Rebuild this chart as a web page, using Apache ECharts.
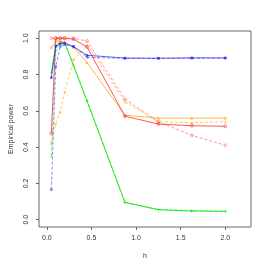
<!DOCTYPE html>
<html>
<head>
<meta charset="utf-8">
<script src="https://cdn.jsdelivr.net/npm/echarts@6/dist/echarts.min.js"></script>
<style>html,body{margin:0;padding:0;background:#fff}#c{width:266px;height:266px}</style>
</head>
<body>
<div id="c"></div>
<script>
var hValues = [0.05, 0.1, 0.15, 0.2, 0.3, 0.45, 0.875, 1.25, 1.625, 2.0];
var redSolid = [0.475, 1.0, 1.0, 1.0, 0.995, 0.952, 0.571, 0.527, 0.518, 0.515];
var redDashed = [1.0, 1.0, 1.0, 1.0, 1.0, 0.985, 0.665, 0.54, 0.465, 0.41];
var orangeSolid = [0.95, 0.985, 0.985, 0.98, 0.95, 0.866, 0.576, 0.56, 0.56, 0.56];
var orangeDashed = [0.424, 0.53, 0.595, 0.705, 0.884, 0.963, 0.65, 0.54, 0.535, 0.54];
var blueSolid = [0.783, 0.955, 0.97, 0.972, 0.954, 0.906, 0.891, 0.89, 0.892, 0.892];
var blueDashed = [0.166, 0.843, 0.955, 0.965, 0.955, 0.895, 0.889, 0.889, 0.89, 0.89];
var greenSolid = [0.81, 0.96, 0.98, 0.975, 0.849, 0.655, 0.096, 0.055, 0.048, 0.046];
var greenDashed = [0.35, 0.93, 0.975, 0.975, 0.849, 0.655, 0.096, 0.057, 0.05, 0.047];
var xTicks = [0, 0.5, 1.0, 1.5, 2.0];
var yTicks = [0, 0.2, 0.4, 0.6, 0.8, 1.0];

function pairs(ys) { return hValues.map(function (h, i) { return [h, ys[i]]; }); }
var plusPath = 'path://M4.4,0L5.6,0L5.6,4.4L10,4.4L10,5.6L5.6,5.6L5.6,10L4.4,10L4.4,5.6L0,5.6L0,4.4L4.4,4.4Z';

function mk(data, color, dashed, symbol, size, z) {
  var hollow = symbol === 'circle';
  return {
    type: 'line', data: pairs(data), z: z,
    symbol: symbol, symbolSize: size, showSymbol: true, showAllSymbol: true,
    lineStyle: { color: color, width: 1, type: dashed ? [3, 2] : 'solid' },
    itemStyle: { color: hollow ? 'rgba(255,255,255,0)' : color, borderColor: color, borderWidth: hollow ? 0.7 : 0 },
    emphasis: { disabled: true }, animation: false
  };
}

var chart = echarts.init(document.getElementById('c'));
chart.setOption({
  animation: false,
  grid: { left: 32, right: 15, top: 31, bottom: 39, show: true, borderColor: '#666', borderWidth: 1, backgroundColor: 'transparent' },
  xAxis: {
    type: 'value', min: -0.088, max: 2.288,
    name: 'h', nameLocation: 'middle', nameGap: 26,
    nameTextStyle: { fontFamily: 'Liberation Sans', fontSize: 7, color: '#333' },
    axisLine: { show: false, onZero: false },
    splitLine: { show: false },
    axisTick: { show: true, inside: false, length: 3, customValues: xTicks, lineStyle: { color: '#666' } },
    axisLabel: { customValues: xTicks, fontFamily: 'Liberation Sans', fontSize: 7, color: '#333', margin: 8,
      formatter: function (v) { return v.toFixed(1); } }
  },
  yAxis: {
    type: 'value', min: -0.04, max: 1.04,
    name: 'Empirical power', nameLocation: 'middle', nameGap: 24,
    nameTextStyle: { fontFamily: 'Liberation Sans', fontSize: 7, color: '#333' },
    axisLine: { show: false, onZero: false },
    splitLine: { show: false },
    axisTick: { show: true, inside: false, length: 3, customValues: yTicks, lineStyle: { color: '#666' } },
    axisLabel: { customValues: yTicks, rotate: 90, fontFamily: 'Liberation Sans', fontSize: 7, color: '#333', margin: 9,
      formatter: function (v) { return v.toFixed(1); } }
  },
  series: [
    mk(greenDashed, 'rgba(0,230,0,0.55)', true, plusPath, 3.5, 1),
    mk(greenSolid, 'rgba(0,230,0,0.85)', false, plusPath, 3.5, 2),
    mk(orangeDashed, 'rgba(255,165,0,0.6)', true, 'triangle', 3, 3),
    mk(orangeSolid, 'rgba(255,165,0,0.75)', false, 'triangle', 3, 4),
    mk(redDashed, 'rgba(255,40,40,0.5)', true, 'circle', 3, 5),
    mk(redSolid, 'rgba(255,30,30,0.75)', false, 'circle', 3, 6),
    mk(blueDashed, 'rgba(40,40,255,0.55)', true, 'rect', 2.5, 7),
    mk(blueSolid, 'rgba(40,40,255,0.75)', false, 'rect', 2.5, 8)
  ]
});
</script>
</body>
</html>
